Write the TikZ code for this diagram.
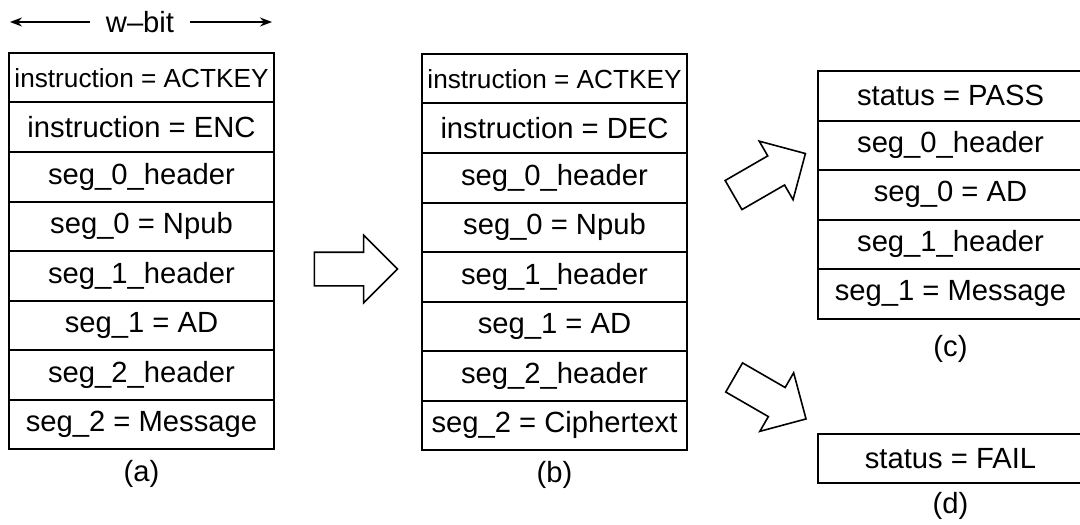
\documentclass[tikz,border=0pt]{standalone}
\usepackage{fontspec}
\setmainfont{Liberation Sans}
\usetikzlibrary{arrows.meta,shapes.arrows,positioning}

\begin{document}
\begin{tikzpicture}[
    x=1pt,y=1pt,
    field/.style={rectangle,draw,line width=1pt,minimum width=132.5pt,minimum height=24.75pt,inner sep=0pt,outer sep=0pt,font=\fontsize{14.6}{17}\selectfont},
    longfield/.style={field,font=\fontsize{13.1}{15}\selectfont},
    caption/.style={font=\fontsize{14.6}{17}\selectfont},
    flow/.style={single arrow,draw,line width=0.8pt,minimum height=41.5pt,single arrow head extend=8.5pt,inner xsep=0pt,inner ysep=8pt,outer sep=0pt},
    wbitarrow/.style={-{Stealth[length=6pt,width=4.5pt]},line width=0.7pt}
]
    \useasboundingbox (0,0) rectangle (540,-262);

    % word width
    \node[caption,inner xsep=8pt] (wbit) at (70,-11) {w--bit};
    \coordinate (wl) at (5,-11);
    \coordinate (wr) at (136,-11);
    \draw[wbitarrow] (wbit) -- (wl);
    \draw[wbitarrow] (wbit) -- (wr);

    % (a) encryption request
    \node[longfield,anchor=north west] (a1) at (4.5,-26.5) {instruction = ACTKEY};
    \node[field,below=0pt of a1] (a2) {instruction = ENC};
    \node[field,below=0pt of a2] (a3) {seg\_0\_header};
    \node[field,below=0pt of a3] (a4) {seg\_0 = Npub};
    \node[field,below=0pt of a4] (a5) {seg\_1\_header};
    \node[field,below=0pt of a5] (a6) {seg\_1 = AD};
    \node[field,below=0pt of a6] (a7) {seg\_2\_header};
    \node[field,below=0pt of a7] (a8) {seg\_2 = Message};
    \node[caption,below=2pt of a8] (capa) {(a)};

    % (b) decryption request
    \node[longfield,anchor=north west] (b1) at (211,-27) {instruction = ACTKEY};
    \node[field,below=0pt of b1] (b2) {instruction = DEC};
    \node[field,below=0pt of b2] (b3) {seg\_0\_header};
    \node[field,below=0pt of b3] (b4) {seg\_0 = Npub};
    \node[field,below=0pt of b4] (b5) {seg\_1\_header};
    \node[field,below=0pt of b5] (b6) {seg\_1 = AD};
    \node[field,below=0pt of b6] (b7) {seg\_2\_header};
    \node[field,below=0pt of b7] (b8) {seg\_2 = Ciphertext};
    \node[caption,below=2pt of b8] (capb) {(b)};

    % (c) success
    \node[field,anchor=north west] (c1) at (409,-35.5) {status = PASS};
    \node[field,below=0pt of c1] (c2) {seg\_0\_header};
    \node[field,below=0pt of c2] (c3) {seg\_0 = AD};
    \node[field,below=0pt of c3] (c4) {seg\_1\_header};
    \node[field,below=0pt of c4] (c5) {seg\_1 = Message};
    \node[caption,below=5pt of c5] (capc) {(c)};

    % (d) failure
    \node[field,anchor=north west,minimum height=24.5pt] (d1) at (409,-217) {status = FAIL};
    \node[caption,below=1pt of d1] (capd) {(d)};

    % block arrows
    \node[flow] (ab) at (173.75,-134.5) {};
    \node[flow,rotate=30] (bc) at (381.1,-89.25) {};
    \node[flow,rotate=-30] (bd) at (381.4,-197) {};
\end{tikzpicture}
\end{document}
